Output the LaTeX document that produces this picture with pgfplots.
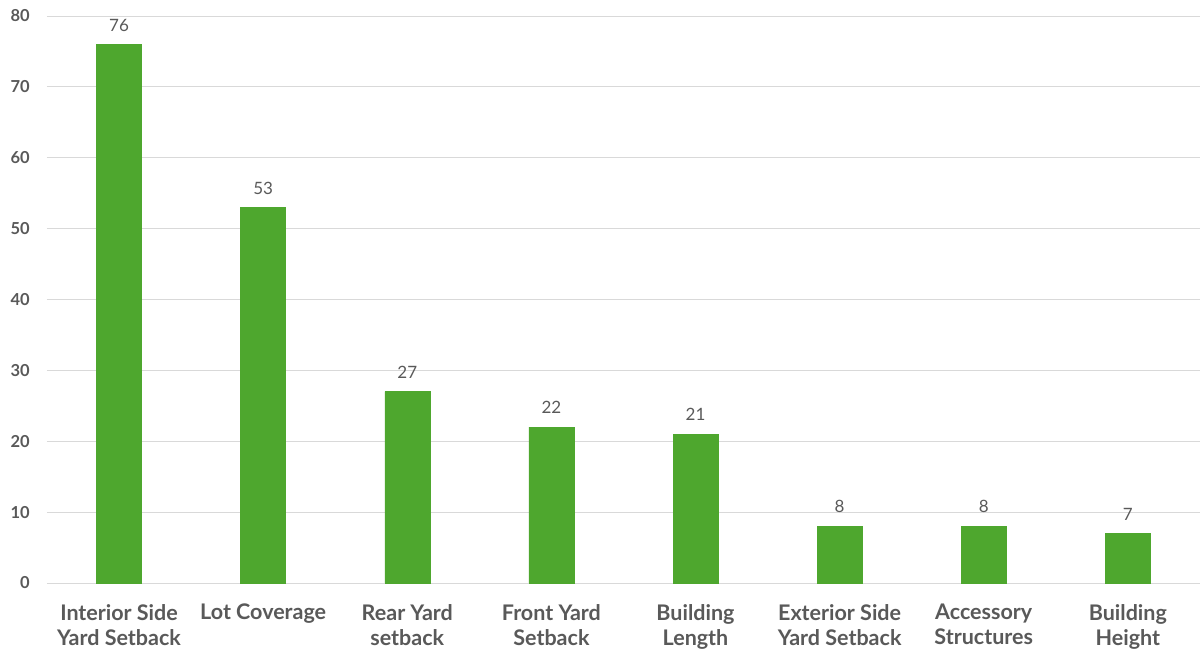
\documentclass[border=0pt]{standalone}
\usepackage{pgfplots}
\pgfplotsset{compat=1.18}
\usepackage{fontspec}
\setmainfont{Lato}
\definecolor{barg}{HTML}{4EA72E}
\definecolor{txtg}{HTML}{595959}
\definecolor{gridg}{HTML}{D9D9D9}
\begin{document}
\begin{tikzpicture}
\useasboundingbox (-47bp,-69bp) rectangle (1153bp,583bp);
\begin{axis}[
  scale only axis,
  width=1153bp, height=567bp,
  xmin=-0.5, xmax=7.5, ymin=0, ymax=80,
  ytick={0,10,...,80},
  xtick=data,
  xticklabels={{Interior Side\\Yard Setback},{Lot Coverage},{Rear Yard\\setback},{Front Yard\\Setback},{Building\\Length},{Exterior Side\\Yard Setback},{Accessory\\Structures},{Building\\Height}},
  axis lines*=left,
  x axis line style={-, draw=gridg, line width=1bp},
  y axis line style={draw=none},
  ymajorgrids,
  grid style={draw=gridg, line width=1bp},
  major tick length=0pt,
  /pgf/number format/assume math mode=true,
  yticklabel style={font=\fontsize{16.5bp}{19bp}\selectfont\bfseries, text=txtg, anchor=east, inner sep=0pt, xshift=-17bp},
  xticklabel style={font=\fontsize{21.5bp}{25bp}\selectfont\bfseries, text=txtg, align=center, anchor=north, inner sep=0pt, yshift=-21bp},
  ybar, bar width=45bp,
  nodes near coords,
  nodes near coords style={font=\fontsize{17bp}{19bp}\selectfont, text=txtg, anchor=south, inner sep=0pt, yshift=13bp},
  clip=false,
]
\addplot[fill=barg, draw=barg] coordinates {(0,76) (1,53) (2,27) (3,22) (4,21) (5,8) (6,8) (7,7)};
\end{axis}
\end{tikzpicture}
\end{document}
